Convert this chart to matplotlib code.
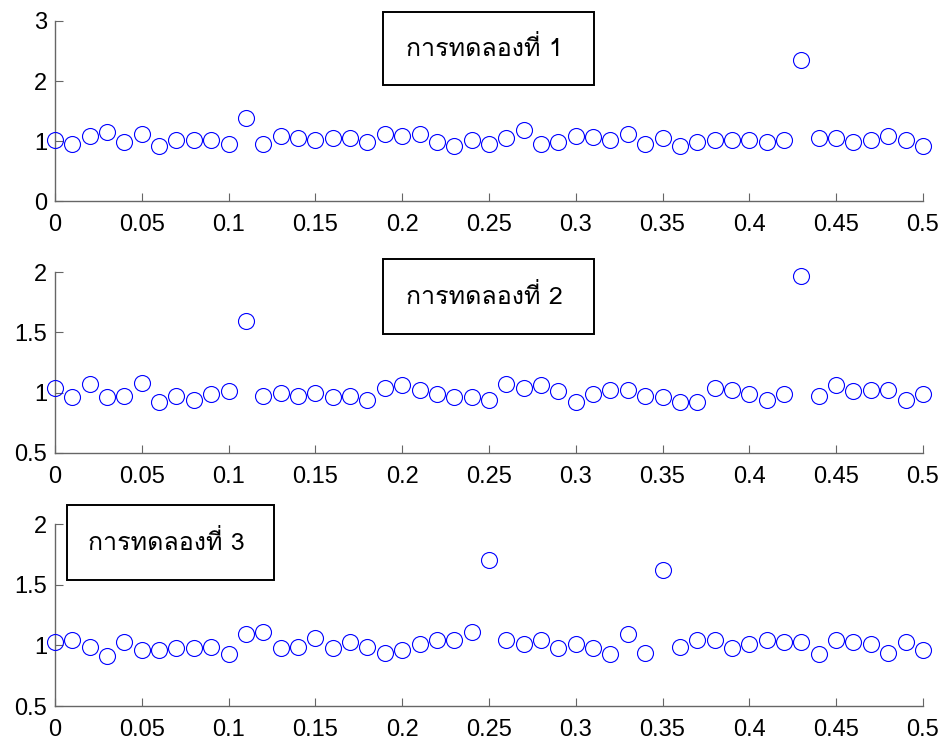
import numpy as np
import matplotlib
matplotlib.use('Agg')
import matplotlib.pyplot as plt
from matplotlib import font_manager
from matplotlib.ft2font import FT2Font
from matplotlib.patches import Rectangle

# x positions shared by the three runs
x = np.arange(0, 51) * 0.01

run1 = [1.02, 0.95, 1.09, 1.15, 0.99, 1.12, 0.92, 1.02, 1.02, 1.02,
        0.95, 1.39, 0.95, 1.08, 1.05, 1.02, 1.05, 1.05, 0.98, 1.12,
        1.09, 1.12, 0.98, 0.92, 1.02, 0.95, 1.05, 1.18, 0.95, 0.98,
        1.09, 1.06, 1.02, 1.12, 0.95, 1.05, 0.92, 0.98, 1.02, 1.02,
        1.02, 0.98, 1.02, 2.35, 1.05, 1.05, 0.98, 1.02, 1.09, 1.02,
        0.92]
run2 = [1.04, 0.96, 1.07, 0.96, 0.97, 1.08, 0.92, 0.97, 0.94, 0.99,
        1.01, 1.59, 0.97, 1.00, 0.97, 1.00, 0.96, 0.97, 0.94, 1.04,
        1.06, 1.02, 0.99, 0.96, 0.96, 0.94, 1.07, 1.04, 1.06, 1.01,
        0.92, 0.99, 1.02, 1.02, 0.97, 0.96, 0.92, 0.92, 1.04, 1.02,
        0.99, 0.94, 0.99, 1.97, 0.97, 1.06, 1.01, 1.02, 1.02, 0.94,
        0.99]
run3 = [1.03, 1.04, 0.99, 0.91, 1.03, 0.96, 0.96, 0.98, 0.98, 0.99,
        0.93, 1.09, 1.11, 0.98, 0.99, 1.06, 0.98, 1.03, 0.99, 0.94,
        0.96, 1.01, 1.04, 1.04, 1.11, 1.70, 1.04, 1.01, 1.04, 0.98,
        1.01, 0.98, 0.93, 1.09, 0.94, 1.62, 0.99, 1.04, 1.04, 0.98,
        1.01, 1.04, 1.03, 1.03, 0.93, 1.04, 1.03, 1.01, 0.94, 1.03,
        0.96]

labels = ['การทดลองที่ 1', 'การทดลองที่ 2', 'การทดลองที่ 3']

xticks = np.arange(0, 11) * 0.05
xticklabels = ['0', '0.05', '0.1', '0.15', '0.2', '0.25', '0.3',
               '0.35', '0.4', '0.45', '0.5']
yticks_1 = [0, 1, 2, 3]
yticklabels_1 = ['0', '1', '2', '3']
yticks_2 = [0.5, 1, 1.5, 2]
yticklabels_2 = ['0.5', '1', '1.5', '2']


def thai_font():
    # first installed font that has Thai glyphs, else DejaVu
    for f in font_manager.fontManager.ttflist:
        try:
            if 0x0E01 in FT2Font(f.fname).get_charmap():
                return f.name
        except Exception:
            pass
    return 'DejaVu Sans'


TH = thai_font()

plt.rcParams['font.family'] = ['Liberation Sans', 'DejaVu Sans']

fig = plt.figure(figsize=(9.46, 7.42), dpi=100)

# [left, bottom, width, height] in figure fraction
axes_pos = [[0.0581, 0.7291, 0.9175, 0.2426],
            [0.0581, 0.3895, 0.9175, 0.2439],
            [0.0581, 0.0485, 0.9175, 0.2453]]
# text box (x0, y0, w, h) in axes fraction
box_pos = [(0.378, 0.644, 0.243, 0.406),
           (0.378, 0.657, 0.243, 0.415),
           (0.0138, 0.692, 0.2384, 0.415)]

runs = [run1, run2, run3]
ylims = [(0, 3), (0.5, 2), (0.5, 2)]
yt = [(yticks_1, yticklabels_1), (yticks_2, yticklabels_2), (yticks_2, yticklabels_2)]

for i in range(3):
    ax = fig.add_axes(axes_pos[i])
    ax.plot(x, runs[i], 'o', mfc='none', mec='#0000ff', ms=11.5, mew=0.8,
            clip_on=False, zorder=3)
    ax.set_xlim(0, 0.5)
    ax.set_ylim(*ylims[i])
    ax.set_xticks(xticks)
    ax.set_xticklabels(xticklabels)
    ax.set_yticks(yt[i][0])
    ax.set_yticklabels(yt[i][1])
    for s in ['top', 'right']:
        ax.spines[s].set_visible(False)
    for s in ['left', 'bottom']:
        ax.spines[s].set_color('#666666')
        ax.spines[s].set_linewidth(1.0)
    ax.tick_params(direction='in', length=6, width=0.8, color='#666666',
                   labelsize=17, labelcolor='black')
    ax.tick_params(axis='x', pad=9.5)
    ax.tick_params(axis='y', pad=5.5)

    bx, by, bw, bh = box_pos[i]
    rect = Rectangle((bx, by), bw, bh, transform=ax.transAxes, fill=True,
                     facecolor='white', edgecolor='black', linewidth=1.4,
                     clip_on=False, zorder=4)
    ax.add_patch(rect)
    ax.text(bx + bw / 2 - 0.005, by + bh / 2, labels[i], transform=ax.transAxes,
            ha='center', va='center', fontsize=18, family=[TH, 'DejaVu Sans'],
            zorder=5)

fig.savefig('out.png', dpi=100)
